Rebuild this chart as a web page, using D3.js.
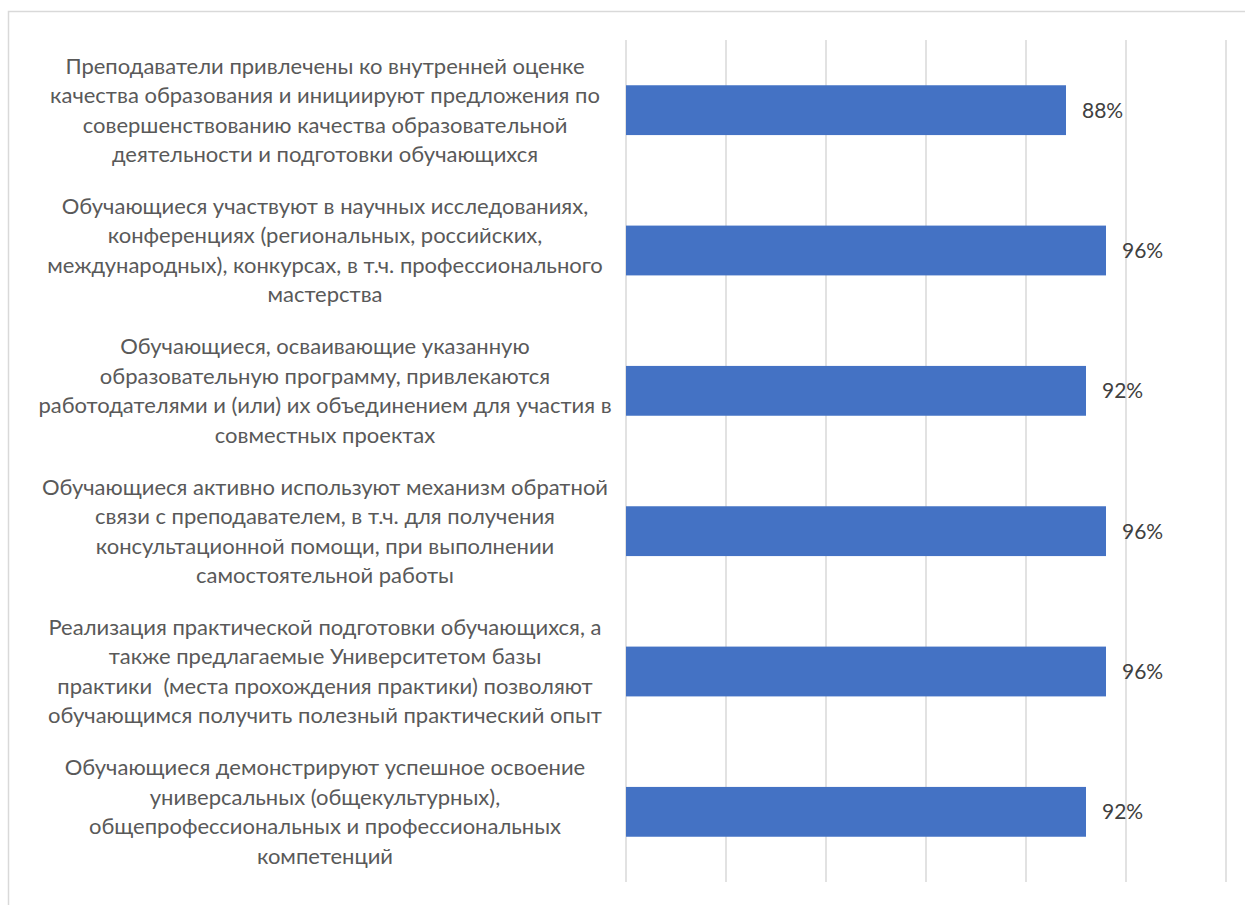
<!DOCTYPE html>
<html>
<head>
<meta charset="utf-8">
<script src="https://cdn.jsdelivr.net/npm/d3@7"></script>
<style>
  html, body { margin: 0; padding: 0; background: #fff; }
  svg { display: block; }
  text { white-space: pre; }
</style>
</head>
<body>
<svg id="chart" width="1245" height="905"></svg>
<script>
const categories = [
  ["Преподаватели привлечены ко внутренней оценке", "качества образования и инициируют предложения по", "совершенствованию качества образовательной", "деятельности и подготовки обучающихся"],
  ["Обучающиеся участвуют в научных исследованиях,", "конференциях (региональных, российских,", "международных), конкурсах, в т.ч. профессионального", "мастерства"],
  ["Обучающиеся, осваивающие указанную", "образовательную программу, привлекаются", "работодателями и (или) их объединением для участия в", "совместных проектах"],
  ["Обучающиеся активно используют механизм обратной", "связи с преподавателем, в т.ч. для получения", "консультационной помощи, при выполнении", "самостоятельной работы"],
  ["Реализация практической подготовки обучающихся, а", "также предлагаемые Университетом базы", "практики  (места прохождения практики) позволяют", "обучающимся получить полезный практический опыт"],
  ["Обучающиеся демонстрируют успешное освоение", "универсальных (общекультурных),", "общепрофессиональных и профессиональных", "компетенций"]
];
const values = [0.88, 0.96, 0.92, 0.96, 0.96, 0.92];
const xTicks = [0, 0.2, 0.4, 0.6, 0.8, 1.0, 1.2];

const svg = d3.select("#chart");
const font = "Lato, 'Open Sans', sans-serif";

// outer border
svg.append("rect")
  .attr("x", 8.5).attr("y", 11.5)
  .attr("width", 1250).attr("height", 900)
  .attr("fill", "none").attr("stroke", "#d9d9d9").attr("stroke-width", 1.5);

const x = d3.scaleLinear().domain([0, 1.2]).range([626, 1226]);
const y = d3.scaleBand().domain(d3.range(categories.length)).range([40, 882]).paddingInner(0.645).paddingOuter(0.3225);

// gridlines
svg.append("g").selectAll("line").data(xTicks).join("line")
  .attr("x1", d => x(d)).attr("x2", d => x(d))
  .attr("y1", 40).attr("y2", 882)
  .attr("stroke", "#d9d9d9").attr("stroke-width", 1.5);

// bars
svg.append("g").selectAll("rect").data(values).join("rect")
  .attr("x", x(0))
  .attr("y", (d, i) => y(i))
  .attr("width", d => x(d) - x(0))
  .attr("height", y.bandwidth())
  .attr("fill", "#4472c4");

// data labels
svg.append("g").selectAll("text").data(values).join("text")
  .attr("x", d => x(d) + 16)
  .attr("y", (d, i) => y(i) + y.bandwidth() / 2)
  .attr("dy", "0.35em")
  .attr("font-family", font).attr("font-size", 21)
  .attr("fill", "#404040")
  .text(d => d3.format(".0%")(d));

// category labels
const lh = 29.5;
const lab = svg.append("g").selectAll("text").data(categories).join("text")
  .attr("text-anchor", "middle")
  .attr("font-family", font).attr("font-size", 22)
  .attr("fill", "#595959")
  .attr("y", (d, i) => y(i) + y.bandwidth() / 2 - (d.length - 1) * lh / 2);
lab.selectAll("tspan").data(d => d).join("tspan")
  .attr("x", 325)
  .attr("dy", (d, j) => j === 0 ? "0.35em" : lh)
  .text(d => d);
</script>
</body>
</html>
